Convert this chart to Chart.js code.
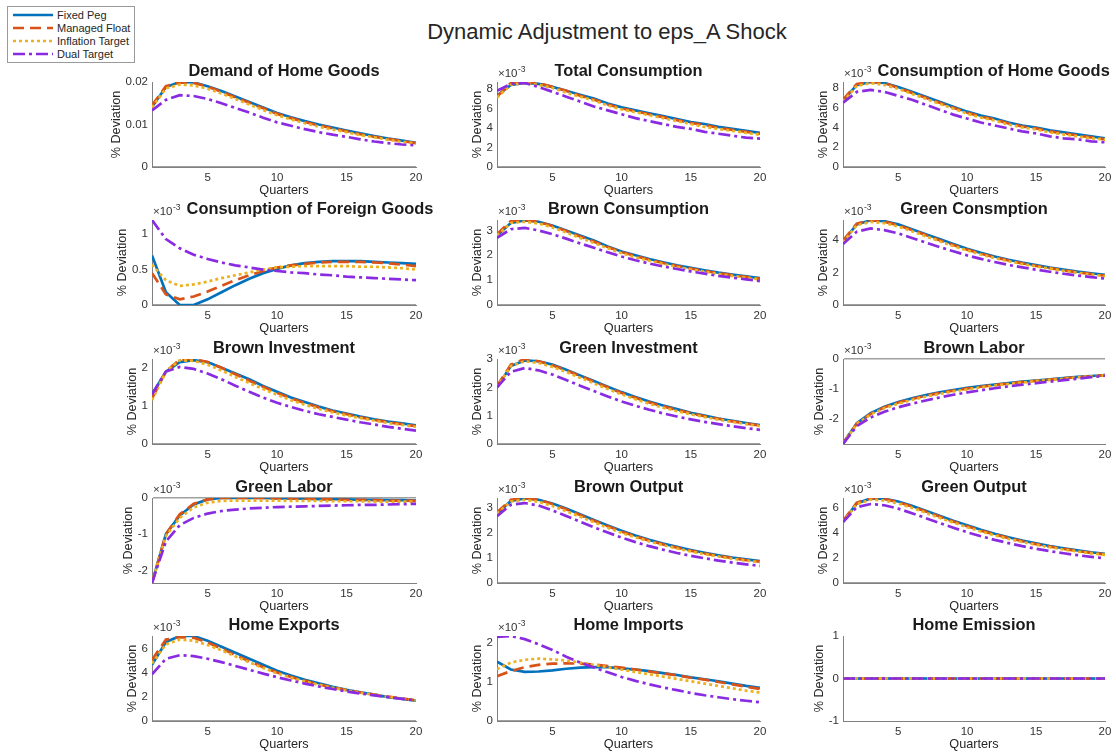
<!DOCTYPE html>
<html>
<head>
<meta charset="utf-8">
<title>Dynamic Adjustment to eps_A Shock</title>
<script src="https://cdn.jsdelivr.net/npm/chart.js@4.4.1/dist/chart.umd.min.js"></script>
<style>
  html, body { margin: 0; padding: 0; background: #fff; }
  #page { position: relative; width: 1116px; height: 755px; overflow: hidden; font-family: "Liberation Sans", Arial, sans-serif; }
  #suptitle { position: absolute; left: 407px; width: 400px; top: 21px; text-align: center; font-size: 22px; line-height: 22px; color: #262626; white-space: nowrap; }
  #legend { position: absolute; left: 0; top: 0; }
  canvas { position: absolute; }
</style>
</head>
<body>
<div id="page">
  <div id="suptitle">Dynamic Adjustment to eps_A Shock</div>
  <svg id="legend" width="140" height="70"></svg>
</div>
<script>
const quarters = [1, 2, 3, 4, 5, 6, 7, 8, 9, 10, 11, 12, 13, 14, 15, 16, 17, 18, 19, 20];
const xTicks = [5, 10, 15, 20];

const seriesNames = ['Fixed Peg', 'Managed Float', 'Inflation Target', 'Dual Target'];
const seriesColors = ['#0072BD', '#D95319', '#EDB120', '#8A2BE2'];
const seriesDash = [[], [11, 6], [3, 3], [12, 4, 3, 4]];

// each panel: one row per regime, in seriesNames order
// demand of home goods is in levels, all other panels in units of 1e-3
const demandHomeGoods = [
  [0.0141, 0.0188, 0.0200, 0.0199, 0.0190, 0.0179, 0.0166, 0.0153, 0.0140, 0.0127, 0.0117, 0.0108, 0.0100, 0.0093, 0.0086, 0.0079, 0.0073, 0.0067, 0.0062, 0.0057],
  [0.0145, 0.0190, 0.0199, 0.0198, 0.0189, 0.0177, 0.0164, 0.0151, 0.0138, 0.0125, 0.0115, 0.0106, 0.0098, 0.0091, 0.0084, 0.0077, 0.0071, 0.0066, 0.0061, 0.0056],
  [0.0140, 0.0185, 0.0194, 0.0192, 0.0184, 0.0173, 0.0160, 0.0147, 0.0134, 0.0122, 0.0112, 0.0103, 0.0095, 0.0088, 0.0082, 0.0075, 0.0070, 0.0064, 0.0059, 0.0055],
  [0.0133, 0.0158, 0.0169, 0.0167, 0.0160, 0.0150, 0.0139, 0.0128, 0.0116, 0.0105, 0.0097, 0.0089, 0.0082, 0.0076, 0.0071, 0.0065, 0.0060, 0.0056, 0.0053, 0.0051]
];
const totalConsumption = [
  [7.3, 8.4, 8.6, 8.5, 8.2, 7.8, 7.4, 7.0, 6.5, 6.1, 5.8, 5.5, 5.2, 4.9, 4.6, 4.4, 4.1, 3.9, 3.7, 3.5],
  [7.2, 8.6, 8.7, 8.6, 8.2, 7.8, 7.3, 6.9, 6.4, 6.0, 5.7, 5.4, 5.1, 4.8, 4.5, 4.3, 4.0, 3.8, 3.6, 3.4],
  [7.1, 8.4, 8.6, 8.4, 8.1, 7.6, 7.2, 6.8, 6.3, 5.9, 5.6, 5.3, 5.0, 4.7, 4.4, 4.1, 3.9, 3.7, 3.5, 3.3],
  [7.8, 8.5, 8.6, 8.2, 7.7, 7.2, 6.7, 6.2, 5.8, 5.4, 5.0, 4.7, 4.4, 4.1, 3.9, 3.6, 3.4, 3.2, 3.0, 2.9]
];
const homeGoodsConsumption = [
  [6.7, 8.3, 8.6, 8.5, 8.1, 7.6, 7.1, 6.6, 6.1, 5.6, 5.2, 4.9, 4.5, 4.2, 4.0, 3.7, 3.5, 3.3, 3.1, 2.9],
  [6.8, 8.4, 8.6, 8.5, 8.0, 7.5, 7.0, 6.5, 6.0, 5.5, 5.1, 4.8, 4.4, 4.1, 3.9, 3.6, 3.4, 3.2, 3.0, 2.8],
  [6.6, 8.2, 8.5, 8.3, 7.9, 7.4, 6.9, 6.4, 5.9, 5.4, 5.0, 4.7, 4.3, 4.0, 3.8, 3.5, 3.3, 3.1, 2.9, 2.8],
  [6.5, 7.6, 7.8, 7.6, 7.2, 6.8, 6.3, 5.8, 5.3, 4.9, 4.5, 4.2, 3.9, 3.6, 3.4, 3.1, 2.9, 2.8, 2.6, 2.5]
];
const foreignGoodsConsumption = [
  [0.70, 0.18, 0.00, 0.00, 0.08, 0.18, 0.28, 0.37, 0.45, 0.51, 0.56, 0.59, 0.61, 0.62, 0.62, 0.62, 0.61, 0.60, 0.59, 0.58],
  [0.45, 0.15, 0.08, 0.12, 0.19, 0.27, 0.35, 0.42, 0.48, 0.53, 0.56, 0.58, 0.60, 0.61, 0.61, 0.61, 0.60, 0.59, 0.57, 0.55],
  [0.57, 0.35, 0.27, 0.29, 0.33, 0.38, 0.42, 0.46, 0.50, 0.53, 0.54, 0.55, 0.55, 0.55, 0.55, 0.54, 0.54, 0.53, 0.52, 0.50],
  [1.20, 0.93, 0.80, 0.71, 0.65, 0.60, 0.56, 0.53, 0.50, 0.48, 0.46, 0.45, 0.43, 0.42, 0.40, 0.39, 0.38, 0.37, 0.36, 0.35]
];
const brownConsumption = [
  [2.80, 3.30, 3.40, 3.35, 3.20, 3.00, 2.80, 2.60, 2.35, 2.15, 2.00, 1.85, 1.72, 1.60, 1.50, 1.40, 1.30, 1.22, 1.15, 1.08],
  [2.85, 3.38, 3.42, 3.35, 3.18, 2.98, 2.76, 2.55, 2.33, 2.13, 1.97, 1.82, 1.69, 1.57, 1.47, 1.37, 1.28, 1.20, 1.13, 1.06],
  [2.80, 3.30, 3.35, 3.28, 3.12, 2.92, 2.70, 2.50, 2.28, 2.08, 1.92, 1.78, 1.65, 1.53, 1.43, 1.34, 1.25, 1.17, 1.10, 1.03],
  [2.70, 3.05, 3.10, 3.00, 2.85, 2.67, 2.48, 2.30, 2.12, 1.95, 1.80, 1.67, 1.55, 1.45, 1.35, 1.26, 1.17, 1.10, 1.03, 0.96]
];
const greenConsumption = [
  [3.90, 4.95, 5.20, 5.15, 4.95, 4.65, 4.35, 4.05, 3.75, 3.45, 3.20, 2.98, 2.78, 2.60, 2.45, 2.30, 2.17, 2.05, 1.95, 1.85],
  [3.95, 5.00, 5.22, 5.12, 4.90, 4.60, 4.30, 3.98, 3.68, 3.40, 3.15, 2.93, 2.73, 2.56, 2.40, 2.26, 2.13, 2.01, 1.90, 1.80],
  [3.85, 4.90, 5.10, 5.03, 4.82, 4.53, 4.22, 3.92, 3.62, 3.35, 3.10, 2.88, 2.69, 2.52, 2.37, 2.23, 2.10, 1.98, 1.87, 1.77],
  [3.75, 4.50, 4.70, 4.60, 4.40, 4.12, 3.84, 3.56, 3.30, 3.05, 2.83, 2.64, 2.46, 2.31, 2.17, 2.04, 1.92, 1.81, 1.71, 1.62]
];
const brownInvestment = [
  [1.30, 1.90, 2.15, 2.20, 2.15, 2.00, 1.85, 1.70, 1.52, 1.37, 1.22, 1.10, 0.98, 0.88, 0.80, 0.72, 0.65, 0.59, 0.54, 0.49],
  [1.20, 1.90, 2.22, 2.23, 2.15, 2.00, 1.83, 1.66, 1.50, 1.34, 1.20, 1.07, 0.96, 0.86, 0.78, 0.70, 0.63, 0.57, 0.52, 0.47],
  [1.15, 1.90, 2.20, 2.18, 2.08, 1.93, 1.76, 1.60, 1.44, 1.29, 1.15, 1.03, 0.92, 0.83, 0.75, 0.68, 0.61, 0.55, 0.50, 0.45],
  [1.30, 1.90, 2.02, 1.97, 1.85, 1.70, 1.53, 1.37, 1.22, 1.08, 0.97, 0.87, 0.78, 0.71, 0.64, 0.57, 0.51, 0.45, 0.40, 0.35]
];
const greenInvestment = [
  [2.00, 2.75, 2.95, 2.92, 2.80, 2.62, 2.42, 2.22, 2.02, 1.83, 1.66, 1.50, 1.36, 1.23, 1.10, 1.00, 0.90, 0.82, 0.74, 0.67],
  [2.05, 2.80, 3.00, 2.92, 2.78, 2.60, 2.40, 2.20, 2.00, 1.80, 1.63, 1.47, 1.33, 1.20, 1.09, 0.98, 0.89, 0.80, 0.72, 0.65],
  [2.00, 2.75, 2.92, 2.86, 2.72, 2.54, 2.34, 2.14, 1.94, 1.75, 1.58, 1.42, 1.28, 1.16, 1.05, 0.95, 0.86, 0.78, 0.70, 0.63],
  [2.00, 2.55, 2.68, 2.60, 2.45, 2.26, 2.06, 1.87, 1.68, 1.50, 1.35, 1.21, 1.08, 0.97, 0.87, 0.78, 0.70, 0.63, 0.56, 0.50]
];
const brownLabor = [
  [-2.83, -2.15, -1.82, -1.60, -1.44, -1.32, -1.21, -1.12, -1.04, -0.97, -0.91, -0.86, -0.81, -0.76, -0.72, -0.68, -0.64, -0.60, -0.57, -0.54],
  [-2.83, -2.17, -1.84, -1.62, -1.46, -1.34, -1.23, -1.14, -1.06, -0.99, -0.93, -0.87, -0.82, -0.77, -0.73, -0.69, -0.65, -0.61, -0.58, -0.54],
  [-2.83, -2.18, -1.86, -1.65, -1.50, -1.37, -1.26, -1.17, -1.09, -1.02, -0.95, -0.89, -0.84, -0.79, -0.74, -0.70, -0.66, -0.62, -0.58, -0.55],
  [-2.85, -2.25, -1.96, -1.77, -1.62, -1.50, -1.39, -1.29, -1.20, -1.12, -1.05, -0.98, -0.92, -0.86, -0.81, -0.76, -0.71, -0.66, -0.61, -0.56]
];
const greenLabor = [
  [-2.35, -1.00, -0.48, -0.18, -0.04, 0.00, 0.00, 0.00, 0.00, -0.01, -0.01, -0.02, -0.03, -0.03, -0.04, -0.05, -0.05, -0.06, -0.06, -0.07],
  [-2.35, -1.00, -0.45, -0.16, -0.04, 0.00, 0.00, 0.00, 0.00, -0.01, -0.01, -0.02, -0.03, -0.04, -0.05, -0.05, -0.06, -0.07, -0.07, -0.08],
  [-2.35, -1.05, -0.55, -0.26, -0.13, -0.08, -0.07, -0.07, -0.07, -0.07, -0.08, -0.08, -0.08, -0.09, -0.09, -0.09, -0.10, -0.10, -0.10, -0.10],
  [-2.35, -1.20, -0.75, -0.55, -0.43, -0.36, -0.32, -0.29, -0.27, -0.25, -0.24, -0.23, -0.22, -0.21, -0.20, -0.19, -0.19, -0.18, -0.17, -0.16]
];
const brownOutput = [
  [2.75, 3.25, 3.35, 3.30, 3.15, 2.95, 2.73, 2.50, 2.28, 2.07, 1.88, 1.71, 1.56, 1.43, 1.31, 1.20, 1.10, 1.01, 0.94, 0.87],
  [2.80, 3.30, 3.37, 3.30, 3.13, 2.92, 2.70, 2.47, 2.25, 2.04, 1.85, 1.68, 1.53, 1.40, 1.28, 1.17, 1.07, 0.99, 0.91, 0.85],
  [2.75, 3.23, 3.30, 3.22, 3.05, 2.85, 2.63, 2.41, 2.19, 1.99, 1.81, 1.65, 1.50, 1.37, 1.25, 1.14, 1.05, 0.96, 0.89, 0.82],
  [2.65, 3.10, 3.17, 3.07, 2.88, 2.66, 2.43, 2.21, 2.00, 1.80, 1.62, 1.46, 1.32, 1.19, 1.08, 0.98, 0.89, 0.81, 0.74, 0.68]
];
const greenOutput = [
  [4.90, 6.35, 6.75, 6.72, 6.50, 6.15, 5.77, 5.37, 4.97, 4.60, 4.25, 3.93, 3.65, 3.39, 3.16, 2.95, 2.77, 2.60, 2.45, 2.33],
  [4.95, 6.40, 6.78, 6.70, 6.45, 6.10, 5.70, 5.30, 4.90, 4.53, 4.18, 3.87, 3.59, 3.33, 3.10, 2.90, 2.72, 2.55, 2.40, 2.28],
  [4.85, 6.30, 6.65, 6.58, 6.35, 6.00, 5.60, 5.20, 4.82, 4.45, 4.11, 3.80, 3.52, 3.27, 3.05, 2.85, 2.67, 2.51, 2.37, 2.24],
  [4.85, 6.05, 6.30, 6.20, 5.93, 5.57, 5.18, 4.79, 4.41, 4.05, 3.73, 3.44, 3.18, 2.94, 2.73, 2.54, 2.37, 2.22, 2.09, 1.97]
];
const homeExports = [
  [4.70, 6.60, 7.10, 7.10, 6.70, 6.20, 5.70, 5.20, 4.70, 4.20, 3.80, 3.45, 3.15, 2.85, 2.60, 2.40, 2.20, 2.00, 1.85, 1.70],
  [5.10, 6.80, 7.00, 6.95, 6.55, 6.05, 5.50, 5.00, 4.50, 4.05, 3.68, 3.35, 3.05, 2.80, 2.58, 2.38, 2.20, 2.03, 1.88, 1.73],
  [4.80, 6.40, 6.80, 6.70, 6.35, 5.90, 5.40, 4.90, 4.42, 3.99, 3.62, 3.30, 3.02, 2.78, 2.56, 2.36, 2.18, 2.02, 1.87, 1.73],
  [3.90, 5.20, 5.50, 5.42, 5.20, 4.92, 4.60, 4.28, 3.96, 3.66, 3.38, 3.12, 2.88, 2.67, 2.47, 2.30, 2.14, 1.99, 1.85, 1.72]
];
const homeImports = [
  [1.52, 1.32, 1.26, 1.27, 1.30, 1.34, 1.37, 1.38, 1.38, 1.35, 1.32, 1.28, 1.23, 1.18, 1.12, 1.07, 1.02, 0.96, 0.90, 0.85],
  [1.15, 1.28, 1.38, 1.44, 1.47, 1.48, 1.47, 1.45, 1.41, 1.37, 1.32, 1.27, 1.22, 1.17, 1.11, 1.06, 1.00, 0.94, 0.88, 0.82],
  [1.33, 1.50, 1.57, 1.60, 1.58, 1.55, 1.50, 1.44, 1.38, 1.32, 1.26, 1.20, 1.14, 1.08, 1.02, 0.96, 0.90, 0.84, 0.78, 0.73],
  [2.16, 2.18, 2.10, 1.97, 1.82, 1.65, 1.50, 1.37, 1.25, 1.13, 1.03, 0.94, 0.86, 0.79, 0.72, 0.66, 0.61, 0.56, 0.52, 0.48]
];
const homeEmission = [
  [0, 0, 0, 0, 0, 0, 0, 0, 0, 0, 0, 0, 0, 0, 0, 0, 0, 0, 0, 0],
  [0, 0, 0, 0, 0, 0, 0, 0, 0, 0, 0, 0, 0, 0, 0, 0, 0, 0, 0, 0],
  [0, 0, 0, 0, 0, 0, 0, 0, 0, 0, 0, 0, 0, 0, 0, 0, 0, 0, 0, 0],
  [0, 0, 0, 0, 0, 0, 0, 0, 0, 0, 0, 0, 0, 0, 0, 0, 0, 0, 0, 0]
];

const panelTitles = [
  'Demand of Home Goods', 'Total Consumption', 'Consumption of Home Goods',
  'Consumption of Foreign Goods', 'Brown Consumption', 'Green Consmption',
  'Brown Investment', 'Green Investment', 'Brown Labor',
  'Green Labor', 'Brown Output', 'Green Output',
  'Home Exports', 'Home Imports', 'Home Emission'
];
const panelData = [
  demandHomeGoods, totalConsumption, homeGoodsConsumption,
  foreignGoodsConsumption, brownConsumption, greenConsumption,
  brownInvestment, greenInvestment, brownLabor,
  greenLabor, brownOutput, greenOutput,
  homeExports, homeImports, homeEmission
];
// panels drawn in units of 1e-3 get the exponent tag
const panelScaled = [false, true, true, true, true, true, true, true, true, true, true, true, true, true, false];
const panelYTicks = [
  [0, 0.01, 0.02], [0, 2, 4, 6, 8], [0, 2, 4, 6, 8],
  [0, 0.5, 1], [0, 1, 2, 3], [0, 2, 4],
  [0, 1, 2], [0, 1, 2, 3], [-2, -1, 0],
  [-2, -1, 0], [0, 1, 2, 3], [0, 2, 4, 6],
  [0, 2, 4, 6], [0, 1, 2], [-1, 0, 1]
];

// subplot grid (plot area of each axes, in page pixels)
const colLeft = [152, 497, 843];
const colWidth = [264, 263, 262];
const rowTop = [82, 220, 359, 498, 636];
const rowHeight = 85;
const padLeft = 62, padTop = 34, padRight = 18, padBottom = 36;

const FONT = '"Liberation Sans", Arial, sans-serif';
const tickFont = { family: FONT, size: 11.5 };
const labelFont = { family: FONT, size: 12.7 };
const textColor = '#262626';
const tickColor = '#333333';
const axisColor = '#808080';

function buildLegend() {
  const ns = 'http://www.w3.org/2000/svg';
  const svg = document.getElementById('legend');
  const box = document.createElementNS(ns, 'rect');
  box.setAttribute('x', 7.5); box.setAttribute('y', 6.5);
  box.setAttribute('width', 127); box.setAttribute('height', 56);
  box.setAttribute('fill', '#fff'); box.setAttribute('stroke', '#9a9a9a');
  svg.appendChild(box);
  seriesNames.forEach((name, s) => {
    const y = 15 + s * 13;
    const line = document.createElementNS(ns, 'line');
    line.setAttribute('x1', 13); line.setAttribute('x2', 53);
    line.setAttribute('y1', y); line.setAttribute('y2', y);
    line.setAttribute('stroke', seriesColors[s]);
    line.setAttribute('stroke-width', 2.5);
    if (seriesDash[s].length) line.setAttribute('stroke-dasharray', seriesDash[s].join(' '));
    svg.appendChild(line);
    const text = document.createElementNS(ns, 'text');
    text.setAttribute('x', 57); text.setAttribute('y', y + 4);
    text.setAttribute('font-family', 'Liberation Sans, Arial, sans-serif');
    text.setAttribute('font-size', 11);
    text.setAttribute('fill', textColor);
    text.textContent = name;
    svg.appendChild(text);
  });
}

// panel title and the x10^-3 tag above the y axis
const panelText = {
  id: 'panelText',
  afterDraw(chart, args, opts) {
    const { ctx, chartArea: a } = chart;
    ctx.save();
    ctx.textAlign = 'left';
    ctx.textBaseline = 'alphabetic';
    let expRight = -Infinity;
    if (opts.scaled) {
      ctx.fillStyle = tickColor;
      ctx.font = '11.5px ' + FONT;
      const x0 = a.left + 1;
      const base = a.top - 5;
      ctx.fillText('\u00d710', x0, base);
      const w1 = ctx.measureText('\u00d710').width;
      ctx.font = '8.5px ' + FONT;
      ctx.fillText('-3', x0 + w1 + 0.5, base - 5);
      expRight = x0 + w1 + 0.5 + ctx.measureText('-3').width;
    }
    ctx.font = 'bold 16.4px ' + FONT;
    ctx.fillStyle = '#1a1a1a';
    const tw = ctx.measureText(opts.title).width;
    let left = (a.left + a.right) / 2 - tw / 2;
    if (left < expRight + 6) left = expRight + 6;
    ctx.fillText(opts.title, left, a.top - 6);
    ctx.restore();
  }
};

const measureCtx = document.createElement('canvas').getContext('2d');
function widestLabel(ticks) {
  measureCtx.font = tickFont.size + 'px ' + FONT;
  return Math.max(...ticks.map(v => measureCtx.measureText(String(v)).width));
}

function yRange(rows) {
  const all = rows.flat();
  let lo = Math.min(0, ...all);
  let hi = Math.max(0, ...all);
  if (lo === hi) { lo = -1; hi = 1; }
  return [lo, hi];
}

function drawPanel(p) {
  const r = Math.floor(p / 3), c = p % 3;
  const w = colWidth[c] + padLeft + padRight;
  const h = rowHeight + padTop + padBottom;
  const canvas = document.createElement('canvas');
  canvas.width = w; canvas.height = h;
  canvas.style.left = (colLeft[c] - padLeft) + 'px';
  canvas.style.top = (rowTop[r] - padTop) + 'px';
  canvas.style.width = w + 'px'; canvas.style.height = h + 'px';
  document.getElementById('page').appendChild(canvas);

  const rows = panelData[p];
  const [lo, hi] = yRange(rows);
  const yTicks = panelYTicks[p];
  const titlePad = padLeft - 4 - widestLabel(yTicks) - 1.5 - labelFont.size * 1.2;

  new Chart(canvas, {
    type: 'line',
    data: {
      datasets: rows.map((vals, s) => ({
        label: seriesNames[s],
        data: vals.map((v, i) => ({ x: quarters[i], y: v })),
        borderColor: seriesColors[s],
        borderWidth: 2.7,
        borderDash: seriesDash[s],
        borderCapStyle: 'butt',
        pointRadius: 0,
        fill: false,
        tension: 0,
        order: seriesNames.length - 1 - s
      }))
    },
    options: {
      responsive: false,
      animation: false,
      devicePixelRatio: 1,
      events: [],
      layout: { padding: { top: padTop, right: padRight, left: 0, bottom: 0 } },
      plugins: {
        legend: { display: false },
        tooltip: { enabled: false },
        panelText: { title: panelTitles[p], scaled: panelScaled[p] }
      },
      scales: {
        x: {
          type: 'linear',
          min: 1,
          max: 20,
          afterBuildTicks: s => { s.ticks = xTicks.map(v => ({ value: v })); },
          afterFit: s => { s.height = padBottom; },
          grid: { display: false, drawTicks: false },
          border: { color: axisColor, width: 1 },
          ticks: { padding: 4, font: tickFont, color: tickColor, maxRotation: 0, autoSkip: false },
          title: { display: true, text: 'Quarters', font: labelFont, color: textColor, padding: { top: 0, bottom: 5 } }
        },
        y: {
          min: lo,
          max: hi,
          afterBuildTicks: s => { s.ticks = yTicks.map(v => ({ value: v })); },
          afterFit: s => { s.width = padLeft; },
          grid: {
            drawTicks: false,
            color: ctx => (ctx.tick && ctx.tick.value === 0 ? '#a0a0a0' : 'rgba(0,0,0,0)'),
            lineWidth: ctx => (ctx.tick && ctx.tick.value === 0 ? 1.5 : 0)
          },
          border: { color: axisColor, width: 1 },
          ticks: { padding: 4, font: tickFont, color: tickColor, autoSkip: false, callback: v => String(v) },
          title: { display: true, text: '% Deviation', font: labelFont, color: textColor, padding: { top: titlePad, bottom: 0 } }
        }
      }
    },
    plugins: [panelText]
  });
}

buildLegend();
panelTitles.forEach((t, p) => drawPanel(p));
</script>
</body>
</html>
